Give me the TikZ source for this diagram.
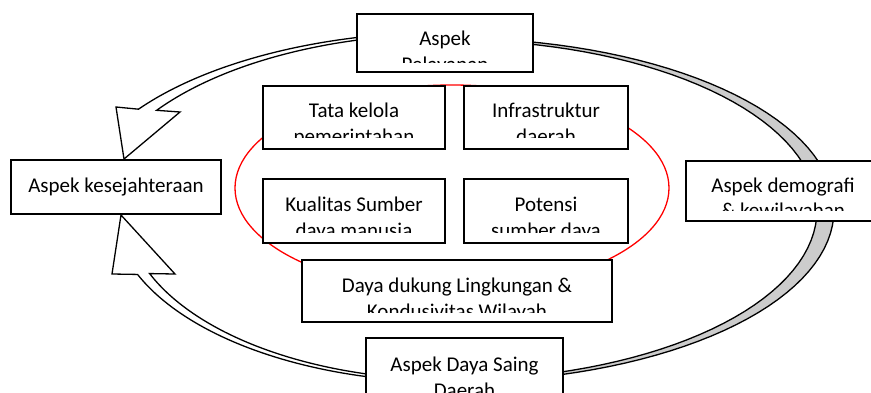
\documentclass[tikz,border=0pt]{standalone}
\usepackage{fontspec}
\setmainfont{Carlito}
\definecolor{band}{RGB}{204,204,204}
\tikzset{
  box/.style={draw=black, line width=1.8pt, fill=white, inner sep=0pt},
  lbl/.style={anchor=base, inner sep=0pt, font=\fontsize{21}{25}\selectfont},
  flow/.style={draw=black, line width=1.3pt, fill=white, line join=miter},
  ring/.style={draw=red, line width=1.3pt},
}
\begin{document}
\begin{tikzpicture}[x=1pt, y=-1pt]
\useasboundingbox (0,0) rectangle (871,392);
\clip (0,0) rectangle (871,392);
\fill[white] (0,0) rectangle (871,392);

% red ring
\draw[ring] (452,188) ellipse [x radius=217, y radius=103];

% right crescent
\draw[flow, fill=band]
  plot[domain=79:-76, samples=60, variable=\t] ({450+384*cos(\t)}, {210-172*sin(\t)})
  -- plot[domain=-76:79, samples=60, variable=\t] ({450+367*cos(\t)}, {210-170*sin(\t)})
  -- cycle;

% top-left curved arrow
\draw[flow]
  plot[domain=103:145.5, samples=40, variable=\t] ({450+378*cos(\t)}, {210-178*sin(\t)})
  -- (116,107) -- (124,159) -- (180,112)
  -- plot[domain=145.5:103, samples=40, variable=\t] ({450+356*cos(\t)}, {210-176*sin(\t)})
  -- cycle;

% bottom-left curved arrow
\draw[flow]
  plot[domain=257:202, samples=40, variable=\t] ({450+337*cos(\t)}, {210-172*sin(\t)})
  -- (112,274) -- (121,215) -- (175,274)
  -- plot[domain=202:257, samples=40, variable=\t] ({450+324*cos(\t)}, {210-169.7*sin(\t)})
  -- cycle;

% boxes
\node[box, minimum width=176pt, minimum height=58pt] (pel) at (445,43) {};
\node[box, minimum width=210pt, minimum height=54pt] (kes) at (116,187) {};
\node[box, minimum width=194pt, minimum height=60pt] (dem) at (783,191) {};
\node[box, minimum width=182pt, minimum height=63pt] (tata) at (354,117.5) {};
\node[box, minimum width=164pt, minimum height=63pt] (infra) at (546,117.5) {};
\node[box, minimum width=182pt, minimum height=64pt] (kual) at (354,211) {};
\node[box, minimum width=164pt, minimum height=64pt] (pot) at (546,211) {};
\node[box, minimum width=310pt, minimum height=62pt] (dd) at (457,291) {};
\node[box, minimum width=197pt, minimum height=72pt] (ds) at (464.5,374) {};

% texts (second lines clipped as in the original)
\begin{scope}
  \clip (359,16) rectangle (531,62);
  \node[lbl] (pel1) at (445,45) {Aspek};
  \node[lbl] (pel2) at (445,71) {Pelayanan};
\end{scope}
\node[lbl] (kes1) at (116,192) {Aspek kesejahteraan};
\begin{scope}
  \clip (688,163) rectangle (871,210);
  \node[lbl] (dem1) at (783,192) {Aspek demografi};
  \node[lbl] (dem2) at (783,217) {\& kewilayahan};
\end{scope}
\begin{scope}
  \clip (265,88) rectangle (443,137);
  \node[lbl] (tata1) at (354,117) {Tata kelola};
  \node[lbl] (tata2) at (354,143) {pemerintahan};
\end{scope}
\begin{scope}
  \clip (466,88) rectangle (626,137);
  \node[lbl] (infra1) at (546,117) {Infrastruktur};
  \node[lbl] (infra2) at (546,143) {daerah};
\end{scope}
\begin{scope}
  \clip (265,181) rectangle (443,232);
  \node[lbl] (kual1) at (354,211) {Kualitas Sumber};
  \node[lbl] (kual2) at (354,237) {daya manusia};
\end{scope}
\begin{scope}
  \clip (466,181) rectangle (626,232);
  \node[lbl] (pot1) at (546,211) {Potensi};
  \node[lbl] (pot2) at (546,237) {sumber daya};
\end{scope}
\begin{scope}
  \clip (304,262) rectangle (610,312);
  \node[lbl] (dd1) at (457,292) {Daya dukung Lingkungan \&};
  \node[lbl] (dd2) at (457,318) {Kondusivitas Wilayah};
\end{scope}
\begin{scope}
  \clip (368,340) rectangle (561,392);
  \node[lbl] (ds1) at (464.5,371) {Aspek Daya Saing};
  \node[lbl] (ds2) at (464.5,397) {Daerah};
\end{scope}
\end{tikzpicture}
\end{document}
